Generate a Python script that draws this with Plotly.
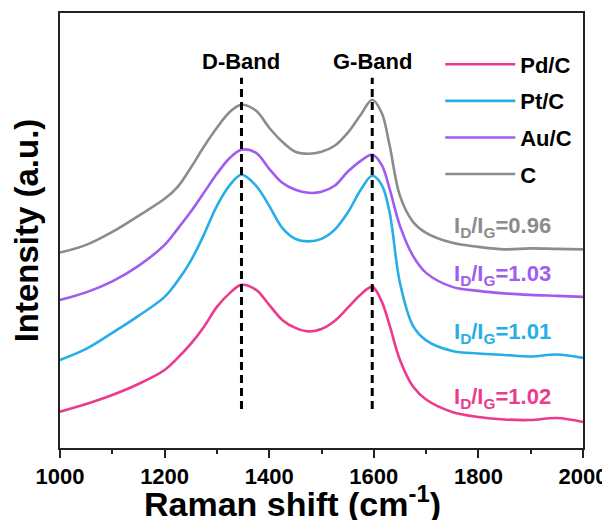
import plotly.graph_objects as go

wavenumber = [1000, 1050, 1100, 1150, 1200, 1225, 1250, 1275, 1300, 1325, 1347, 1375, 1400, 1425,
              1450, 1475, 1500, 1525, 1550, 1575, 1597, 1615, 1630, 1650, 1675, 1700, 1750, 1800,
              1850, 1900, 1950, 2000]

pd_c = [36.3, 44, 53, 64, 78, 90, 104, 121, 141, 155, 163, 158, 143, 128,
        120, 116.5, 119, 127, 140, 153.5, 161, 146.5, 123, 88, 61.5, 48.5, 36, 31,
        28.5, 28, 30, 26]
pt_c = [88, 99, 115, 132, 151, 167, 187, 213, 242, 263, 273, 262, 242, 220,
        209, 206.5, 209, 218, 235, 258, 272, 263, 236, 165, 122, 107.6, 97, 94.5,
        93, 91.5, 93.5, 90]
au_c = [148, 155.5, 166.5, 182, 203, 219, 236, 255, 274, 290, 298, 295, 279, 265,
        258, 255, 256, 262, 276, 287, 293, 283, 259.5, 222, 192, 175, 161, 157,
        154.5, 153, 152, 151]
c_only = [195.3, 203, 216, 232, 249, 261, 280, 301, 320, 336, 343, 337, 320, 306,
          296, 294, 296, 302, 315, 333, 348, 335, 303, 252, 226, 215, 205, 201,
          198.5, 199.5, 199, 198.5]

series_names = ["Pd/C", "Pt/C", "Au/C", "C"]
series_values = [pd_c, pt_c, au_c, c_only]
colors = ["#EC3A8E", "#27AEE6", "#9F5CF0", "#8C8C8C"]

ratio_labels = ["1.02", "1.01", "1.03", "0.96"]
ratio_y = [50, 115, 173, 221]
ratio_x = 1750

band_positions = [1347, 1597]
band_labels = ["D-Band", "G-Band"]
band_y0, band_y1 = 39, 370
band_label_y = 386

x_ticks = [1000, 1200, 1400, 1600, 1800, 2000]

FONT = "Arial, 'Liberation Sans', sans-serif"

fig = go.Figure()
for i, (name, vals, col) in enumerate(zip(series_names, series_values, colors)):
    fig.add_trace(go.Scatter(
        x=wavenumber, y=vals, mode="lines", name=name,
        legendgroup=name,
        line=dict(color=col, width=2.6, shape="spline", smoothing=1.0),
    ))

for bx, bl in zip(band_positions, band_labels):
    fig.add_shape(type="line", x0=bx, x1=bx, y0=band_y0, y1=band_y1,
                  xref="x", yref="y",
                  line=dict(color="black", width=3, dash="8px,5px"))
    fig.add_annotation(x=bx, y=band_label_y, xref="x", yref="y", text=bl,
                       showarrow=False, yanchor="middle",
                       font=dict(family=FONT, size=22, color="black", weight="bold"))

for lab, ry, col in zip(ratio_labels, ratio_y, colors):
    fig.add_annotation(x=ratio_x, y=ry, xref="x", yref="y",
                       text="I<sub>D</sub>/I<sub>G</sub>=" + lab,
                       showarrow=False, xanchor="left", yanchor="middle",
                       font=dict(family=FONT, size=22, color=col, weight="bold"))

fig.add_annotation(x=0.4436, y=-0.122, xref="paper", yref="paper",
                   text="Raman shift (cm<sup>-1</sup>)", showarrow=False,
                   xanchor="center", yanchor="middle",
                   font=dict(family=FONT, size=34, color="black", weight="bold"))

# The page body adds an 8px offset, so the figure is 602x512 to fill the 610x520 window.
fig.update_layout(
    width=602, height=512,
    margin=dict(l=52, r=27, t=5, b=72),
    paper_bgcolor="white", plot_bgcolor="white",
    font=dict(family=FONT, color="black"),
    showlegend=True,
    legend=dict(x=0.727, y=0.93, xanchor="left", yanchor="top",
                bgcolor="rgba(0,0,0,0)", itemwidth=70, tracegroupgap=5,
                font=dict(family=FONT, size=22, color="black", weight="bold")),
    xaxis=dict(range=[1000, 2000], tickvals=x_ticks, ticks="outside", ticklen=8,
               tickwidth=2, tickcolor="#222", showline=True, linewidth=2,
               linecolor="#222", mirror=True, showgrid=False, zeroline=False,
               automargin=False,
               tickfont=dict(family=FONT, size=22, color="black", weight="bold"),
               minor=dict(dtick=100, ticks="outside", ticklen=4, tickwidth=2,
                          tickcolor="#222", showgrid=False)),
    yaxis=dict(range=[0, 434.7], showticklabels=False, ticks="", showline=True,
               linewidth=2, linecolor="#222", mirror=True, showgrid=False,
               zeroline=False, automargin=False,
               title=dict(text="Intensity (a.u.)", standoff=14,
                          font=dict(family=FONT, size=33, color="black", weight="bold"))),
)

fig.write_html("out.html")
